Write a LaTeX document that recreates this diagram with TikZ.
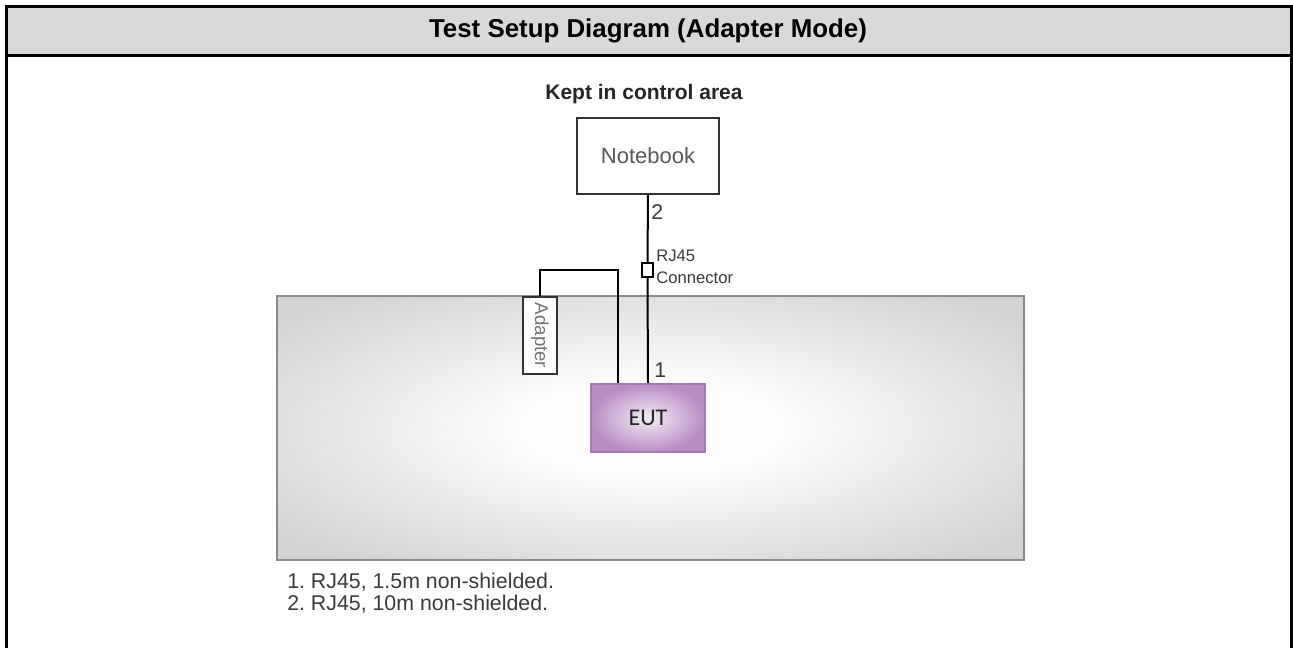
\documentclass[tikz,border=0pt]{standalone}
\usepackage{fontspec}
\setmainfont{Liberation Sans}
\newfontfamily\eutfont{Carlito}
\usetikzlibrary{positioning, calc}
\definecolor{headgray}{HTML}{D9D9D9}
\definecolor{areaedge}{HTML}{8A8A8A}
\definecolor{areagray}{HTML}{D3D3D3}
\definecolor{eutedge}{HTML}{A57AB4}
\definecolor{eutouter}{HTML}{B98DC4}
\definecolor{eutinner}{HTML}{F4EDF6}
\definecolor{textgray}{HTML}{3A3A3A}
\pgfdeclareradialshading{areashade}{\pgfpoint{0bp}{0bp}}{color(0bp)=(white); color(8bp)=(white!97!areagray); color(32bp)=(areagray); color(50bp)=(areagray)}
\frenchspacing

\begin{document}
\begin{tikzpicture}[x=0.75pt, y=-0.75pt,
		cable/.style={line width=1.5pt, black},
		device/.style={draw=black!80, line width=1.5pt, fill=white, inner sep=0pt},
		tag/.style={font=\fontsize{15.75}{18}\selectfont, text=textgray, inner sep=0pt}]
	\useasboundingbox (0,0) rectangle (1293,648);
	% frame and header
	\fill[headgray] (6.5,6.5) rectangle (1291.5,55.5);
	\draw[line width=2.25pt] (6.5,648) -- (6.5,6.5) -- (1291.5,6.5) -- (1291.5,648);
	\draw[line width=2.25pt] (6.5,55.5) -- (1291.5,55.5);
	\node[font=\bfseries\fontsize{19.4}{22}\selectfont] (title) at (648,31) {Test Setup Diagram (Adapter Mode)};

	% table area
	\shade[shading=areashade] (277,296) rectangle (1024,560);
	\draw[areaedge, line width=2pt] (277,296) rectangle (1024,560);

	\node[font=\bfseries\fontsize{15.75}{18}\selectfont, text=black!85] (kept) at (644,94) {Kept in control area};
	\node[device, minimum width=106.5pt, minimum height=57pt,
		font=\fontsize{16.5}{19}\selectfont, text=black!65] (notebook) at (648,156) {Notebook};
	\node[draw=eutedge, line width=1.2pt, inner color=eutinner, outer color=eutouter,
		minimum width=85.5pt, minimum height=51pt,
		font=\eutfont\fontsize{18}{20}\selectfont, text=black!85] (eut) at (648,418) {EUT};
	\node[device, line width=1.2pt, rotate=-90, minimum width=57.75pt, minimum height=25.5pt,
		font=\fontsize{14}{15}\selectfont, text=black!55] (adapter) at (540,335.5) {Adapter};

	% cables
	\node[draw=black, line width=1.1pt, fill=white, minimum width=8.25pt, minimum height=10.5pt, inner sep=0pt] (rj) at (647.5,270) {};
	\draw[cable] (notebook.south) -- (rj.north);
	\draw[cable] (rj.south) -- (eut.north);
	\coordinate (bend) at (618,270);
	\draw[cable] (adapter.west) |- (bend) -- (bend |- eut.north);

	\node[tag, font=\fontsize{16}{18}\selectfont, anchor=west] (two) at (651,212) {2};
	\node[tag, font=\fontsize{16}{18}\selectfont, anchor=west] (one) at (654,370) {1};
	\node[tag, font=\fontsize{12.5}{17}\selectfont, align=left, anchor=west] (rjlabel) at (656,267) {RJ45\\Connector};

	\node[tag, font=\fontsize{16}{16.5}\selectfont, align=left, anchor=north west] (notes) at (287,573) {1. RJ45, 1.5m non-shielded.\\2. RJ45, 10m non-shielded.};
\end{tikzpicture}
\end{document}
